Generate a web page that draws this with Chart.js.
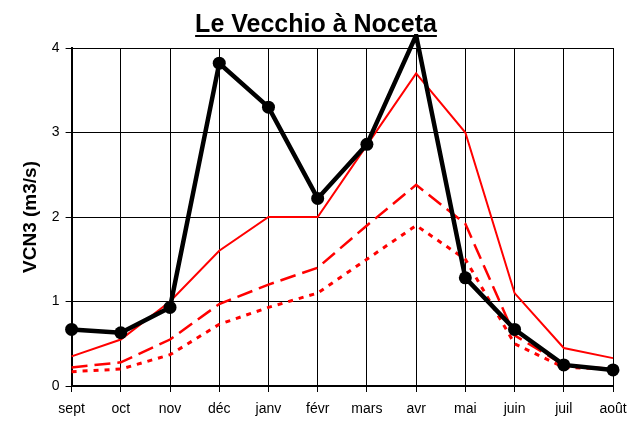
<!DOCTYPE html>
<html>
<head>
<meta charset="utf-8">
<script src="https://cdn.jsdelivr.net/npm/chart.js@4/dist/chart.umd.min.js"></script>
<style>
  html, body { margin: 0; padding: 0; background: #fff; }
  #wrap { width: 644px; height: 421px; }
</style>
</head>
<body>
<div id="wrap"><canvas id="vcnChart" width="644" height="421"></canvas></div>
<script>
const months = ['sept', 'oct', 'nov', 'déc', 'janv', 'févr', 'mars', 'avr', 'mai', 'juin', 'juil', 'août'];
const yTicks = [0, 1, 2, 3, 4];

const vcnObserved = [0.67, 0.63, 0.93, 3.82, 3.30, 2.22, 2.86, 4.15, 1.28, 0.67, 0.25, 0.19];
const vcnRedSolid = [0.35, 0.55, 1.0, 1.6, 2.0, 2.0, 2.85, 3.7, 3.0, 1.1, 0.45, 0.33];
const vcnRedDashed = [0.22, 0.28, 0.55, 0.97, 1.2, 1.4, 1.9, 2.38, 1.92, 0.6, 0.25, 0.2];
const vcnRedDotted = [0.17, 0.2, 0.37, 0.73, 0.93, 1.1, 1.5, 1.9, 1.5, 0.5, 0.22, 0.2];

const FONT = '"Liberation Sans", Arial, sans-serif';
const TITLE_SIZE = 25;

// Chart.js titles have no underline, draw it under the text
const underlineTitle = {
  id: 'underlineTitle',
  afterDraw(chart) {
    const t = chart.titleBlock;
    if (!t) return;
    const opts = chart.options.plugins.title;
    const ctx = chart.ctx;
    ctx.save();
    ctx.font = 'bold ' + TITLE_SIZE + 'px ' + FONT;
    const w = ctx.measureText(opts.text).width;
    const cx = (t.left + t.right) / 2;
    const mid = t.top + opts.padding.top + TITLE_SIZE * 1.2 / 2;
    const y = mid + 11;
    ctx.strokeStyle = '#000';
    ctx.lineWidth = 2;
    ctx.beginPath();
    ctx.moveTo(cx - w / 2, y);
    ctx.lineTo(cx + w / 2, y);
    ctx.stroke();
    ctx.restore();
  }
};

new Chart(document.getElementById('vcnChart'), {
  type: 'line',
  data: {
    labels: months,
    datasets: [
      {
        label: 'VCN3 observé',
        data: vcnObserved,
        borderColor: '#000',
        backgroundColor: '#000',
        borderWidth: 4.5,
        pointRadius: vcnObserved.map((v) => (v > 4 ? 0 : 6.5)),
        pointBorderWidth: 0,
        tension: 0,
        clip: { left: 8, top: 14, right: 8, bottom: 8 },
        order: 0
      },
      {
        label: 'rouge plein',
        data: vcnRedSolid,
        borderColor: '#ff0000',
        borderWidth: 2,
        pointRadius: 0,
        tension: 0,
        order: 1
      },
      {
        label: 'rouge tirets',
        data: vcnRedDashed,
        borderColor: '#ff0000',
        borderWidth: 2.5,
        borderDash: [16, 7],
        pointRadius: 0,
        tension: 0,
        order: 2
      },
      {
        label: 'rouge pointillé',
        data: vcnRedDotted,
        borderColor: '#ff0000',
        borderWidth: 3,
        borderDash: [5, 6],
        pointRadius: 0,
        tension: 0,
        order: 3
      }
    ]
  },
  options: {
    responsive: false,
    animation: false,
    layout: { padding: { left: 19, right: 31, top: 4, bottom: 1 } },
    plugins: {
      legend: { display: false },
      tooltip: { enabled: false },
      title: {
        display: true,
        text: 'Le Vecchio à Noceta',
        color: '#000',
        font: { family: FONT, size: TITLE_SIZE, weight: 'bold' },
        padding: { top: 6, bottom: 8 }
      }
    },
    scales: {
      x: {
        offset: false,
        afterFit: (scale) => { scale.height = 34; },
        grid: { color: '#000', lineWidth: 1, tickLength: 6, tickColor: '#000' },
        border: { color: '#000', width: 2 },
        ticks: {
          color: '#000',
          font: { family: FONT, size: 14 },
          maxRotation: 0,
          autoSkip: false,
          padding: 9
        }
      },
      y: {
        min: 0,
        max: 4,
        afterBuildTicks: (axis) => { axis.ticks = yTicks.map((v) => ({ value: v })); },
        grid: { color: '#000', lineWidth: 1, tickLength: 6, tickColor: '#000' },
        border: { color: '#000', width: 2 },
        ticks: {
          color: '#000',
          font: { family: FONT, size: 14 },
          padding: 6
        },
        title: {
          display: true,
          text: 'VCN3 (m3/s)',
          color: '#000',
          font: { family: FONT, size: 19, weight: 'bold' },
          padding: { top: 0, bottom: 4 }
        }
      }
    }
  },
  plugins: [underlineTitle]
});
</script>
</body>
</html>
